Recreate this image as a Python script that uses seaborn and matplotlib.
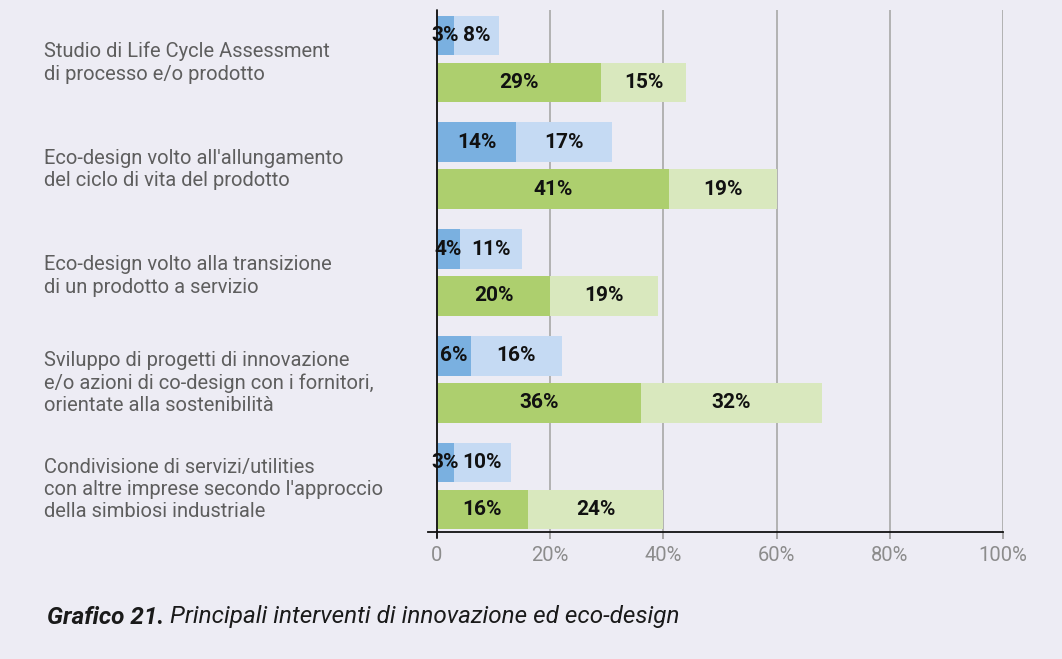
import matplotlib
matplotlib.use("Agg")
import matplotlib.pyplot as plt
import seaborn as sns
import pandas as pd

categories = [
    "Studio di Life Cycle Assessment\ndi processo e/o prodotto",
    "Eco-design volto all'allungamento\ndel ciclo di vita del prodotto",
    "Eco-design volto alla transizione\ndi un prodotto a servizio",
    "Sviluppo di progetti di innovazione\ne/o azioni di co-design con i fornitori,\norientate alla sostenibilità",
    "Condivisione di servizi/utilities\ncon altre imprese secondo l'approccio\ndella simbiosi industriale",
]
groups = ["blu", "verde"]
blue_dark = [3, 14, 4, 6, 3]
blue_light = [8, 17, 11, 16, 10]
green_dark = [29, 41, 20, 36, 16]
green_light = [15, 19, 19, 32, 24]
xticks = [0, 20, 40, 60, 80, 100]
xticklabels = ["0", "20%", "40%", "60%", "80%", "100%"]
caption_bold = "Grafico 21."
caption_rest = " Principali interventi di innovazione ed eco-design"

BG = "#EDECF4"
C_BLUE_D = "#7AB0E0"
C_BLUE_L = "#C5DAF3"
C_GREEN_D = "#ADCF6E"
C_GREEN_L = "#D9E8BE"

sns.set_theme(style="white")
plt.rcParams["font.family"] = ["Roboto", "DejaVu Sans"]

rows_total, rows_first = [], []
for i, c in enumerate(categories):
    rows_total.append({"cat": c, "grp": "blu", "val": blue_dark[i] + blue_light[i]})
    rows_total.append({"cat": c, "grp": "verde", "val": green_dark[i] + green_light[i]})
    rows_first.append({"cat": c, "grp": "blu", "val": blue_dark[i]})
    rows_first.append({"cat": c, "grp": "verde", "val": green_dark[i]})
df_total = pd.DataFrame(rows_total)
df_first = pd.DataFrame(rows_first)

AX_L = 428
fig = plt.figure(figsize=(10.62, 6.59), dpi=100, facecolor=BG)
ax = fig.add_axes([AX_L / 1062, 1 - 532 / 659, (1003 - AX_L) / 1062, (532 - 10) / 659])
ax.set_facecolor(BG)

common = dict(y="cat", x="val", hue="grp", hue_order=groups, order=categories, orient="h",
              width=0.88, gap=0.15, dodge=True, legend=False, saturation=1, ax=ax, zorder=2,
              linewidth=0, edgecolor="none")
sns.barplot(data=df_total, palette=[C_BLUE_L, C_GREEN_L], **common)
sns.barplot(data=df_first, palette=[C_BLUE_D, C_GREEN_D], **common)

conts = ax.containers
tot_conts = conts[0:2]
first_conts = conts[2:4]
for g in range(2):
    for pt, pf in zip(tot_conts[g], first_conts[g]):
        yc = pf.get_y() + pf.get_height() / 2
        f = pf.get_width()
        t = pt.get_width()
        ax.text(f / 2, yc, f"{f:.0f}%", ha="center", va="center", fontsize=15,
                fontweight="bold", color="#111111", zorder=4)
        ax.text((f + t) / 2, yc, f"{t - f:.0f}%", ha="center", va="center", fontsize=15,
                fontweight="bold", color="#111111", zorder=4)

ax.set_xlim(-1.6, 100)
ax.set_ylim(4.431, -0.459)
ax.set_xticks(xticks)
ax.set_xticklabels(xticklabels)
ax.set_xlabel("")
ax.set_ylabel("")
ax.grid(axis="x", color="#ADADAD", lw=1.3, zorder=0)
ax.grid(axis="y", visible=False)
ax.set_axisbelow(True)
for s in ["top", "right", "left"]:
    ax.spines[s].set_visible(False)
ax.spines["bottom"].set_color("#111111")
ax.spines["bottom"].set_linewidth(1.3)
ax.axvline(0, ymin=-0.012, ymax=1, color="#111111", lw=1.3, clip_on=False, zorder=5)

ax.tick_params(axis="x", length=5, width=1.2, color="#999999", labelcolor="#8C8C8C",
               labelsize=14.5, pad=5, bottom=True)
ax.tick_params(axis="y", length=0, labelcolor="#5E5E5E", labelsize=14.5, pad=(AX_L - 44) * 0.72)
for lab in ax.get_yticklabels():
    lab.set_horizontalalignment("left")
    lab.set_linespacing(1.22)

fig.canvas.draw()
t1 = fig.text(47 / 1062, 1 - 617 / 659, caption_bold, fontsize=17.5, fontweight="bold",
              fontstyle="italic", color="#1A1A1A", va="center", ha="left")
fig.canvas.draw()
bb = t1.get_window_extent(renderer=fig.canvas.get_renderer())
fig.text(bb.x1 / fig.bbox.width, 1 - 617 / 659, caption_rest, fontsize=17.5,
         fontstyle="italic", color="#1A1A1A", va="center", ha="left")

fig.savefig("out.png", dpi=100, facecolor=BG)
